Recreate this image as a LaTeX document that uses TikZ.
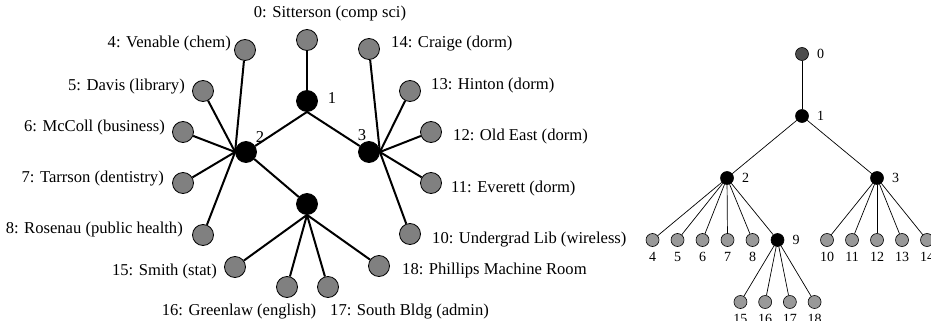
\documentclass[tikz,border=0pt]{standalone}
\usepackage{fontspec}
\setmainfont{Liberation Serif}
\usetikzlibrary{positioning}
\definecolor{hostgray}{HTML}{808080}
\definecolor{leafgray}{HTML}{999999}
\definecolor{rootgray}{HTML}{4D4D4D}

\begin{document}
\begin{tikzpicture}[x=1pt,y=-1pt]
    \tikzstyle{host}=[circle,draw,line width=0.8pt,fill=hostgray,minimum size=21pt,inner sep=0pt]
    \tikzstyle{router}=[host,fill=black]
    \tikzstyle{link}=[line width=2pt]
    \tikzstyle{site}=[font=\fontsize{16.6}{20}\selectfont,inner sep=0pt]
    \tikzstyle{leaf}=[circle,draw,line width=0.6pt,fill=leafgray,minimum size=13pt,inner sep=0pt]
    \tikzstyle{hub}=[leaf,fill=black]
    \tikzstyle{num}=[font=\fontsize{14}{16}\selectfont,inner sep=0pt]
    \useasboundingbox (0,0) rectangle (931,321);
    % campus network
    \node[router] (n1) at (307,101) {};
    \node[router] (n2) at (246,152) {};
    \node[router] (n3) at (369,152) {};
    \node[router] (n9) at (307,204) {};
    \foreach \n/\x/\y in {0/307/40, 4/245/50, 5/203/91, 6/183/132, 7/183/183, 8/203/235,
        10/410/234, 11/431/183, 12/431/132, 13/410/91, 14/369/49,
        15/235/267, 16/287/287, 17/328/287, 18/379/266}
      \node[host] (n\n) at (\x,\y) {};
    \foreach \a/\b in {n0/n1, n1.south/n2, n1.south/n3, n2/n9,
        n2.west/n4, n2.west/n5, n2.west/n6, n2.west/n7, n2.west/n8,
        n3.east/n10, n3.east/n11, n3.east/n12, n3.east/n13, n3.east/n14,
        n9.south/n15, n9.south/n16, n9.south/n17, n9.south/n18}
      \draw[link] (\a) -- (\b);
    \node[site] (c1) at (332,98) {1};
    \node[site] (c2) at (260,137) {2};
    \node[site] (c3) at (362,135) {3};
    \node[site] (l0) at (330,14) {0: Sitterson (comp sci)};
    \node[site,anchor=east] (l4) at (231,44) {4: Venable (chem)};
    \node[site,anchor=east] (l5) at (185,87) {5: Davis (library)};
    \node[site,anchor=east] (l6) at (165,128) {6: McColl (business)};
    \node[site,anchor=east] (l7) at (164,179) {7: Tarrson (dentistry)};
    \node[site,anchor=east] (l8) at (183,230) {8: Rosenau (public health)};
    \node[site,anchor=east] (l15) at (217,272) {15: Smith (stat)};
    \node[site] (l16) at (239,312) {16: Greenlaw (english)};
    \node[site,anchor=west] (l17) at (330,312) {17: South Bldg (admin)};
    \node[site,anchor=west] (l18) at (402,271) {18: Phillips Machine Room};
    \node[site,anchor=west] (l10) at (432,240) {10: Undergrad Lib (wireless)};
    \node[site,anchor=west] (l11) at (451,189) {11: Everett (dorm)};
    \node[site,anchor=west] (l12) at (453,137) {12: Old East (dorm)};
    \node[site,anchor=west] (l13) at (431,86) {13: Hinton (dorm)};
    \node[site,anchor=west] (l14) at (391,44) {14: Craige (dorm)};
    % spanning tree
    \tikzstyle{level 2}=[sibling distance=150pt]
    \tikzstyle{level 3}=[sibling distance=25pt]
    \tikzstyle{level 4}=[sibling distance=24.7pt]
    \node[leaf,fill=rootgray,label={[num,label distance=8pt]right:0}] (t0) at (802,54) {}
      [level distance=62pt,edge from parent/.style={draw,line width=0.7pt}]
      child {node[hub,label={[num,label distance=8pt]right:1}] (t1) {}
        child {node[hub,label={[num,label distance=8pt]right:2}] (t2) {}
          child[xshift=-12pt] foreach \n in {4,...,8} {node[leaf,label={[num,label distance=5.5pt]below:\n}] (t\n) {}}
          child[xshift=-12pt] {node[hub,label={[num,label distance=8pt]right:9}] (t9) {}
            child foreach \n in {15,...,18} {node[leaf,label={[num,label distance=5.5pt]below:\n}] (t\n) {}}}}
        child {node[hub,label={[num,label distance=8pt]right:3}] (t3) {}
          child foreach \n in {10,...,14} {node[leaf,label={[num,label distance=5.5pt]below:\n}] (t\n) {}}}}
    ;
\end{tikzpicture}
\end{document}
